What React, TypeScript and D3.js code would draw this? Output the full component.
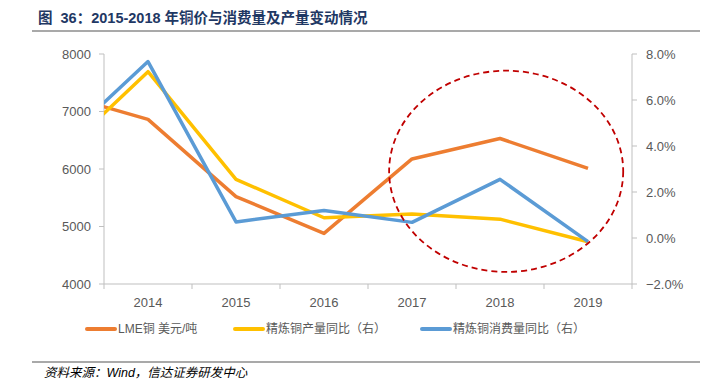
import React from 'react'
import * as d3 from 'd3'

// data (first value is 2013, clipped at the left edge)
const years = [2013, 2014, 2015, 2016, 2017, 2018, 2019]
const tickYears = [2014, 2015, 2016, 2017, 2018, 2019]
const lmeCopper = [7300, 6864, 5520, 4880, 6175, 6530, 6010]
const refinedOutputYoY = [3.6, 7.23, 2.55, 0.88, 1.04, 0.82, -0.16]
const refinedUseYoY = [4.1, 7.67, 0.7, 1.2, 0.68, 2.55, -0.16]
const leftTicks = [4000, 5000, 6000, 7000, 8000]
const rightTicks = [-2, 0, 2, 4, 6, 8]
const legendItems = [
  { name: 'LME铜 美元/吨', color: '#ED7D31' },
  { name: '精炼铜产量同比（右）', color: '#FFC000' },
  { name: '精炼铜消费量同比（右）', color: '#5B9BD5' },
]

const W = 707
const H = 390
const left = 104
const right = 632
const top = 54
const bottom = 284
const axisColor = '#BFBFBF'
const labelColor = '#595959'
const numFont = '"Liberation Sans", Arial, sans-serif'
const mixFont = '"Liberation Sans", "Noto Sans CJK SC", sans-serif'

export default function App() {
  const x = d3.scaleLinear().domain([2013.5, 2019.5]).range([left, right])
  const yL = d3.scaleLinear().domain([4000, 8000]).range([bottom, top])
  const yR = d3.scaleLinear().domain([-2, 8]).range([bottom, top])

  const lineL = d3.line<number>().x((_, i) => x(years[i])).y(d => yL(d))
  const lineR = d3.line<number>().x((_, i) => x(years[i])).y(d => yR(d))

  const boundaries = d3.range(2013.5, 2020, 1)

  return (
    <svg width={W} height={H} style={{ position: 'absolute', left: 0, top: 0, background: '#fff' }}>
      <defs>
        <clipPath id="plot">
          <rect x={left} y={0} width={right - left} height={H} />
        </clipPath>
      </defs>

      {/* title */}
      <text x={38} y={23} fontFamily={mixFont} fontWeight="bold" fontSize={14.5} fill="#1F3864" style={{ whiteSpace: 'pre' }}>
        {'图  36：2015-2018 年铜价与消费量及产量变动情况'}
      </text>
      <line x1={32} x2={700} y1={31} y2={31} stroke="#8C8C8C" strokeWidth={1.5} />

      {/* left axis */}
      <line x1={left} x2={left} y1={top} y2={bottom} stroke={axisColor} strokeWidth={1} />
      {leftTicks.map(t => (
        <g key={t}>
          <line x1={left - 5} x2={left} y1={yL(t)} y2={yL(t)} stroke={axisColor} />
          <text x={91} y={yL(t)} dy="0.35em" textAnchor="end" fontFamily={numFont} fontSize={13} fill={labelColor}>{t}</text>
        </g>
      ))}

      {/* right axis */}
      <line x1={right} x2={right} y1={top} y2={bottom} stroke={axisColor} strokeWidth={1} />
      {rightTicks.map(t => (
        <g key={t}>
          <line x1={right} x2={right + 5} y1={yR(t)} y2={yR(t)} stroke={axisColor} />
          <text x={646} y={yR(t)} dy="0.35em" fontFamily={numFont} fontSize={13} fill={labelColor}>{d3.format('.1f')(t)}%</text>
        </g>
      ))}

      {/* x axis */}
      <line x1={left} x2={right} y1={bottom} y2={bottom} stroke={axisColor} />
      {boundaries.map(b => (
        <line key={b} x1={x(b)} x2={x(b)} y1={bottom} y2={bottom + 5} stroke={axisColor} />
      ))}
      {tickYears.map(t => (
        <text key={t} x={x(t)} y={307} textAnchor="middle" fontFamily={numFont} fontSize={13} fill={labelColor}>{t}</text>
      ))}

      {/* series */}
      <g clipPath="url(#plot)" fill="none" strokeWidth={3.5} strokeLinejoin="round">
        <path d={lineL(lmeCopper) ?? ''} stroke="#ED7D31" />
        <path d={lineR(refinedOutputYoY) ?? ''} stroke="#FFC000" />
        <path d={lineR(refinedUseYoY) ?? ''} stroke="#5B9BD5" />
      </g>

      {/* highlight */}
      <ellipse cx={x(2018.07)} cy={yL(5960)} rx={x(2019.33) - x(2018)} ry={yL(5000) - yL(6750)}
        fill="none" stroke="#C00000" strokeWidth={1.8} strokeDasharray="6,4" />

      {/* legend */}
      {legendItems.map((d, i) => {
        const lx = [87, 235, 422][i]
        return (
          <g key={d.name}>
            <line x1={lx} x2={lx + 28} y1={329} y2={329} stroke={d.color} strokeWidth={4} strokeLinecap="round" />
            <text x={lx + 31} y={329} dy="0.35em" fontFamily={mixFont} fontSize={12} fill={labelColor}>{d.name}</text>
          </g>
        )
      })}

      {/* source */}
      <line x1={32} x2={700} y1={362} y2={362} stroke="#8C8C8C" strokeWidth={1.5} />
      <text x={44} y={377} fontFamily={mixFont} fontStyle="italic" fontSize={12.5} fill="#000">
        资料来源：Wind，信达证券研发中心
      </text>
    </svg>
  )
}
